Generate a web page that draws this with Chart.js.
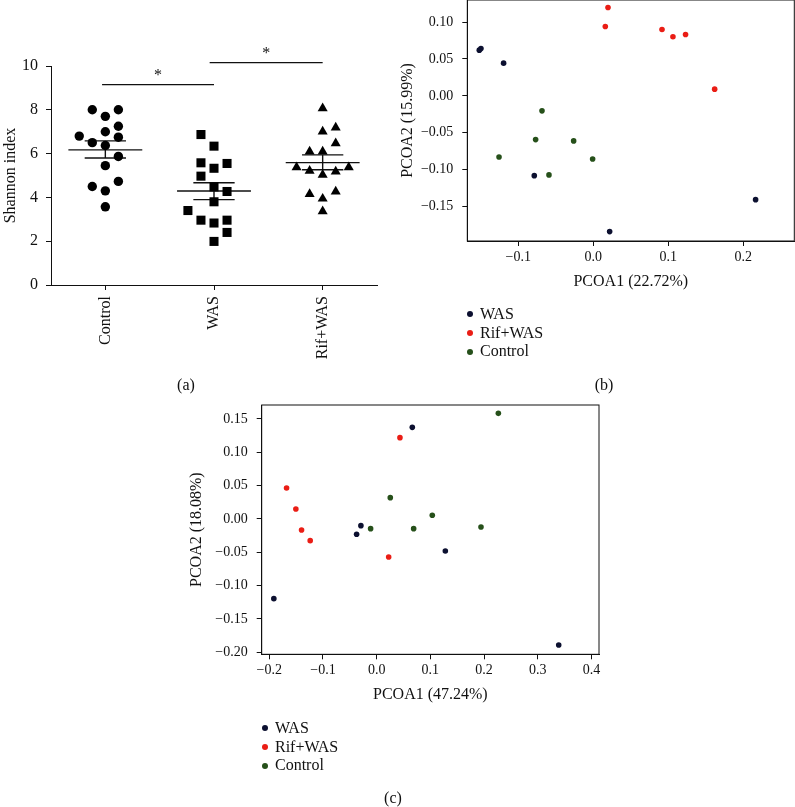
<!DOCTYPE html>
<html>
<head>
<meta charset="utf-8">
<script src="https://cdn.jsdelivr.net/npm/chart.js@4.4.1/dist/chart.umd.min.js"></script>
<style>
  html, body { margin: 0; padding: 0; background: #fff; }
  body { width: 795px; height: 807px; position: relative; overflow: hidden;
         font-family: "Liberation Serif", "Times New Roman", serif; color: #111; }
  canvas { position: absolute; left: 0; top: 0; }
  .plabel { position: absolute; font-size: 16px; transform: translate(-50%, -50%); white-space: nowrap; }
  .legend { position: absolute; font-size: 16px; line-height: 18.7px; }
  .legend .row { white-space: nowrap; }
  .legend .dot { display: inline-block; width: 6px; height: 6px; border-radius: 50%;
                 margin-right: 7px; vertical-align: middle; position: relative; top: -1px; }
</style>
</head>
<body>
<canvas id="ca" width="795" height="807"></canvas>
<canvas id="cb" width="795" height="807"></canvas>
<canvas id="cc" width="795" height="807"></canvas>

<div class="plabel" style="left:186px;top:385px">(a)</div>
<div class="plabel" style="left:604px;top:385px">(b)</div>
<div class="plabel" style="left:393px;top:798px">(c)</div>

<div class="legend" id="legB" style="left:467px;top:305px"></div>
<div class="legend" id="legC" style="left:262px;top:719px"></div>

<script>
// ---------------- DATA ----------------
// Panel (a): Shannon index
const groups = ['Control', 'WAS', 'Rif+WAS'];
const yTicksA = [0, 2, 4, 6, 8, 10];
const controlVals = [8.0, 8.0, 7.7, 7.25, 6.8, 7.0, 6.75, 6.5, 6.37, 5.87, 5.45, 4.5, 4.73, 4.3, 3.57];
const controlJit  = [-0.12, 0.12, 0, 0.12, -0.24, 0, 0.12, -0.12, 0, 0.12, 0, -0.12, 0.12, 0, 0];
const wasVals = [6.87, 6.34, 5.58, 5.33, 5.55, 4.97, 4.48, 4.27, 3.8, 3.4, 2.96, 2.83, 2.96, 2.4, 1.99];
const wasJit  = [-0.12, 0, -0.12, 0, 0.12, -0.12, 0, 0.12, 0, -0.24, -0.12, 0, 0.12, 0.12, 0];
const rifVals = [8.07, 7.01, 7.19, 6.47, 6.09, 6.09, 5.37, 5.21, 5.03, 5.18, 5.37, 4.15, 4.27, 3.94, 3.36];
const rifJit  = [0, 0, 0.12, 0.12, -0.12, 0, -0.24, -0.12, 0, 0.12, 0.24, -0.12, 0.12, 0, 0];
const meanVals = [6.17, 4.29, 5.59];
const semHigh  = [6.58, 4.67, 5.94];
const semLow   = [5.80, 3.90, 5.26];
const sigStart = [0.97, 1.96];
const sigEnd   = [2.0, 3.0];
const sigLevel = [9.15, 10.15];
const sigMark  = ['*', '*'];

// Panel (b): PCoA
const seriesNames = ['WAS', 'Rif+WAS', 'Control'];
const seriesColors = ['#0c1030', '#ea1d15', '#26501a'];
const xTicksB = [-0.1, 0.0, 0.1, 0.2];
const yTicksB = [-0.15, -0.10, -0.05, 0.00, 0.05, 0.10];
const wasB_x = [-0.152, -0.1498, -0.1196, -0.0787, 0.2164, 0.0218];
const wasB_y = [0.0619, 0.064, 0.0443, -0.108, -0.1405, -0.1838];
const rifB_x = [0.0196, 0.016, 0.0916, 0.1062, 0.123, 0.1618];
const rifB_y = [0.1197, 0.0939, 0.0899, 0.080, 0.083, 0.0091];
const ctlB_x = [-0.0684, -0.0769, -0.0262, -0.1257, -0.0009, -0.0591];
const ctlB_y = [-0.0203, -0.0592, -0.061, -0.0827, -0.0854, -0.107];

// Panel (c): PCoA
const xTicksC = [-0.2, -0.1, 0.0, 0.1, 0.2, 0.3, 0.4];
const yTicksC = [-0.20, -0.15, -0.10, -0.05, 0.00, 0.05, 0.10, 0.15];
const wasC_x = [-0.1914, -0.0373, -0.0293, 0.0664, 0.1279, 0.339];
const wasC_y = [-0.1195, -0.023, -0.010, 0.1375, -0.048, -0.189];
const rifC_x = [-0.1677, -0.1504, -0.1398, -0.1237, 0.0434, 0.0224];
const rifC_y = [0.0465, 0.015, -0.0165, -0.0325, 0.122, -0.057];
const ctlC_x = [-0.0112, 0.0254, 0.0689, 0.1036, 0.1943, 0.2266];
const ctlC_y = [-0.0145, 0.032, -0.0145, 0.0055, -0.012, 0.1585];

// ---------------- HELPERS ----------------
Chart.defaults.font.family = "'Liberation Serif', 'Times New Roman', serif";
Chart.defaults.color = '#111';
const INK = '#111';
const fmt = (v, d) => { const s = Math.abs(v).toFixed(d); return (v < -1e-9 ? '\u2212' : '') + s; };
const pts = (xs, ys) => xs.map((x, i) => ({ x, y: ys[i] }));
const fixTicks = arr => (s) => { s.ticks = arr.map(v => ({ value: v })); };
const zeroPad = s => { s.paddingTop = 0; s.paddingBottom = 0; s.paddingLeft = 0; s.paddingRight = 0; };

const framePlugin = {
  id: 'frame',
  afterDraw(c) {
    const { ctx, chartArea: a } = c;
    ctx.save(); ctx.strokeStyle = INK; ctx.lineWidth = 1;
    ctx.strokeRect(a.left, a.top, a.right - a.left, a.bottom - a.top);
    ctx.restore();
  }
};

function axisCommon(extra) {
  return Object.assign({
    grid: { drawOnChartArea: false, drawTicks: true, tickLength: 5, color: INK, lineWidth: 1 },
    border: { display: true, color: INK, width: 1 }
  }, extra);
}

// ---------------- PANEL (a) ----------------
const lineDs = (data, w) => ({ type: 'line', data, borderColor: INK, borderWidth: w,
  pointRadius: 0, fill: false, clip: false, order: 2 });
const dsA = [];
[controlVals, wasVals, rifVals].forEach((vals, g) => {
  const jit = [controlJit, wasJit, rifJit][g];
  dsA.push({
    type: 'scatter', label: groups[g],
    data: vals.map((v, i) => ({ x: g + 1 + jit[i], y: v })),
    pointStyle: ['circle', 'rect', 'triangle'][g],
    pointRadius: [4.7, 6.4, 5.8][g],
    backgroundColor: '#000', borderWidth: 0, order: 1
  });
  dsA.push(lineDs([{ x: g + 1 - 0.34, y: meanVals[g] }, { x: g + 1 + 0.34, y: meanVals[g] }], 1.4));
  dsA.push(lineDs([{ x: g + 1 - 0.19, y: semHigh[g] }, { x: g + 1 + 0.19, y: semHigh[g] }], 1.4));
  dsA.push(lineDs([{ x: g + 1 - 0.19, y: semLow[g] }, { x: g + 1 + 0.19, y: semLow[g] }], 1.4));
  dsA.push(lineDs([{ x: g + 1, y: semLow[g] }, { x: g + 1, y: semHigh[g] }], 1.4));
});
sigLevel.forEach((lv, k) => {
  dsA.push(lineDs([{ x: sigStart[k], y: lv }, { x: sigEnd[k], y: lv }], 1.2));
});

const sigPlugin = {
  id: 'sig',
  afterDatasetsDraw(c) {
    const { ctx, scales: { x, y } } = c;
    ctx.save();
    ctx.fillStyle = INK; ctx.font = "16px 'Liberation Serif', serif";
    ctx.textAlign = 'center'; ctx.textBaseline = 'middle';
    sigLevel.forEach((lv, k) => {
      const px = x.getPixelForValue((sigStart[k] + sigEnd[k]) / 2);
      const py = y.getPixelForValue(lv) - 9;
      ctx.fillText(sigMark[k], px, py);
    });
    ctx.restore();
  }
};

new Chart(document.getElementById('ca'), {
  type: 'scatter',
  data: { datasets: dsA },
  options: {
    responsive: false, animation: false, devicePixelRatio: 1,
    layout: { autoPadding: false, padding: { left: 1, top: 66, right: 418, bottom: 422 } },
    plugins: { legend: { display: false }, tooltip: { enabled: false } },
    scales: {
      x: axisCommon({
        type: 'linear', min: 0.5, max: 3.5,
        afterBuildTicks: fixTicks([1, 2, 3]),
        afterFit: s => { s.height = 100; zeroPad(s); },
        ticks: { minRotation: 90, maxRotation: 90, padding: 6, color: INK,
                 font: { size: 16 }, callback: (v, i) => groups[i] }
      }),
      y: axisCommon({
        type: 'linear', min: 0, max: 10,
        afterBuildTicks: fixTicks(yTicksA),
        afterFit: s => { s.width = 50; zeroPad(s); },
        ticks: { padding: 8, color: INK, font: { size: 16 } },
        title: { display: true, text: 'Shannon index', color: INK, font: { size: 16 }, padding: 0 }
      })
    }
  },
  plugins: [sigPlugin]
});

// ---------------- PANELS (b) and (c) ----------------
function pcoa(id, series, pad, yW, xH, xr, yr, xt, yt, xTitle, yTitle, xDec, yDec) {
  new Chart(document.getElementById(id), {
    type: 'scatter',
    data: { datasets: series.map((s, i) => ({
      label: seriesNames[i], data: s, backgroundColor: seriesColors[i],
      borderWidth: 0, pointRadius: 2.8 })) },
    options: {
      responsive: false, animation: false, devicePixelRatio: 1,
      layout: { autoPadding: false, padding: pad },
      plugins: { legend: { display: false }, tooltip: { enabled: false } },
      scales: {
        x: axisCommon({
          type: 'linear', min: xr[0], max: xr[1],
          afterBuildTicks: fixTicks(xt),
          afterFit: s => { s.height = xH; zeroPad(s); },
          ticks: { padding: 3, color: INK, font: { size: 14 }, maxRotation: 0,
                   callback: v => fmt(v, xDec) },
          title: { display: true, text: xTitle, color: INK, font: { size: 16 }, padding: 0 }
        }),
        y: axisCommon({
          type: 'linear', min: yr[0], max: yr[1],
          afterBuildTicks: fixTicks(yt),
          afterFit: s => { s.width = yW; zeroPad(s); },
          ticks: { padding: 9, color: INK, font: { size: 14 }, callback: v => fmt(v, yDec) },
          title: { display: true, text: yTitle, color: INK, font: { size: 16 }, padding: 0 }
        })
      }
    },
    plugins: [framePlugin]
  });
}

pcoa('cb',
  [pts(wasB_x, wasB_y), pts(rifB_x, rifB_y), pts(ctlB_x, ctlB_y)],
  { left: 398.4, top: 0, right: 0.7, bottom: 516 }, 68.9, 50,
  [-0.168, 0.268], [-0.1965, 0.1298], xTicksB, yTicksB,
  'PCOA1 (22.72%)', 'PCOA2 (15.99%)', 1, 2);

pcoa('cc',
  [pts(wasC_x, wasC_y), pts(rifC_x, rifC_y), pts(ctlC_x, ctlC_y)],
  { left: 187.1, top: 405, right: 196, bottom: 102.7 }, 74.6, 50,
  [-0.214, 0.414], [-0.203, 0.171], xTicksC, yTicksC,
  'PCOA1 (47.24%)', 'PCOA2 (18.08%)', 1, 2);

// ---------------- LEGENDS (HTML text) ----------------
['legB', 'legC'].forEach(id => {
  const el = document.getElementById(id);
  seriesNames.forEach((n, i) => {
    const r = document.createElement('div'); r.className = 'row';
    const d = document.createElement('span'); d.className = 'dot'; d.style.background = seriesColors[i];
    r.appendChild(d); r.appendChild(document.createTextNode(n));
    el.appendChild(r);
  });
});
</script>
</body>
</html>
